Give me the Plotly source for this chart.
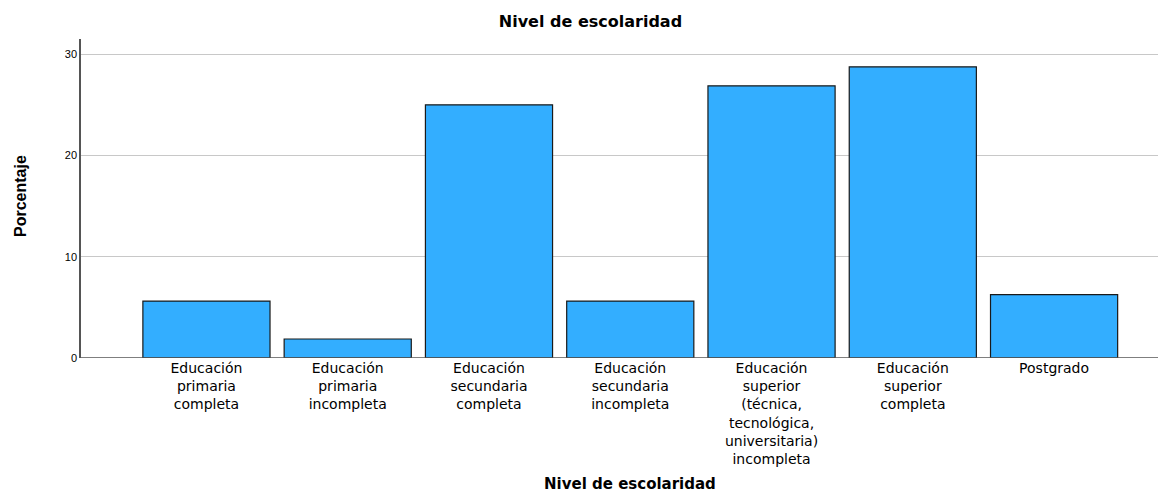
import plotly.graph_objects as go

categories = [
    "Educación<br>primaria<br>completa",
    "Educación<br>primaria<br>incompleta",
    "Educación<br>secundaria<br>completa",
    "Educación<br>secundaria<br>incompleta",
    "Educación<br>superior<br>(técnica,<br>tecnológica,<br>universitaria)<br>incompleta",
    "Educación<br>superior<br>completa",
    "Postgrado",
]
percentages = [5.625, 1.875, 25.0, 5.625, 26.875, 28.75, 6.25]
y_ticks = [0, 10, 20, 30]

# page body has an 8px margin, so figure is sized/offset to fit the window
fig = go.Figure(go.Bar(
    x=categories, y=percentages, width=0.9,
    marker=dict(color="#33AEFF", line=dict(color="#1a1a1a", width=1.2)),
))

fig.update_layout(
    width=1158, height=486,
    margin=dict(l=73, r=3, t=31, b=136),
    plot_bgcolor="white", paper_bgcolor="white",
    showlegend=False,
    title=dict(text="<b>Nivel de escolaridad</b>", x=0.503, xanchor="center",
               y=1 - 13 / 486, yanchor="middle",
               font=dict(family="DejaVu Sans", size=16, color="black")),
    font=dict(family="Liberation Sans", color="black"),
)
fig.update_xaxes(
    range=[-0.888, 6.771], showgrid=False, showline=False, automargin=False,
    ticks="", tickfont=dict(family="DejaVu Sans", size=14, color="black"),
)
fig.update_yaxes(
    range=[0, 31.5], tickvals=y_ticks, showgrid=True, gridcolor="#c8c8c8",
    gridwidth=1, zeroline=False, showline=True, linecolor="#555555", linewidth=1.5,
    automargin=False,
    ticks="", tickfont=dict(family="Liberation Sans", size=11, color="black"),
)
fig.add_annotation(text="<b>Nivel de escolaridad</b>", xref="paper", yref="paper",
                   x=(630 - 81) / (1163 - 81), y=-(484 - 358) / (358 - 39),
                   xanchor="center", yanchor="middle",
                   showarrow=False,
                   font=dict(family="DejaVu Sans", size=15, color="black"))
fig.add_annotation(text="<b>Porcentaje</b>", xref="paper", yref="paper",
                   x=-(81 - 20) / (1163 - 81), y=(358 - 196) / (358 - 39),
                   xanchor="center", yanchor="middle", textangle=-90,
                   showarrow=False,
                   font=dict(family="Liberation Sans Narrow, Liberation Sans", size=16, color="black"))
fig.add_hline(y=0, line=dict(color="#555555", width=1.5), layer="above")

fig.write_html("out.html")
